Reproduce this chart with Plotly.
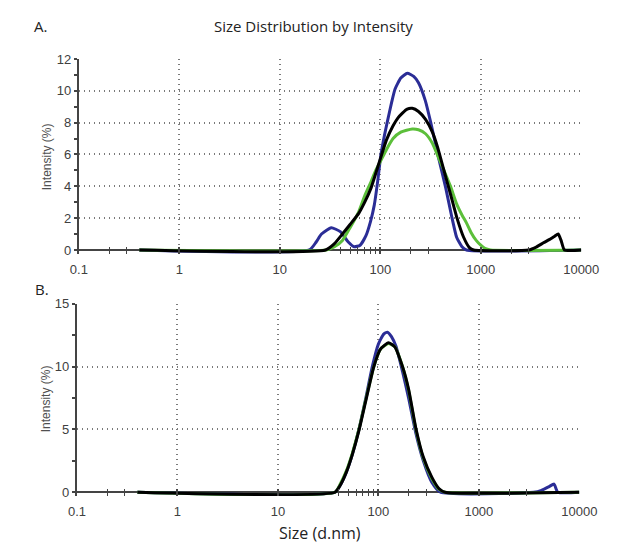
import plotly.graph_objects as go

# ---------------- data ----------------
# Panel A
a_blue_x = [0.4, 19.7, 23, 26, 32.5, 40, 48, 55, 63, 72, 80, 87, 95, 101, 110, 117, 130, 140, 160, 186, 215, 240, 280, 318, 380, 448, 510, 575, 650, 720, 10000]
a_blue_y = [0, 0, 0.5, 1.0, 1.4, 1.15, 0.5, 0.2, 0.3, 0.9, 1.8, 2.8, 4.5, 5.9, 7.2, 8.0, 9.3, 10.1, 10.8, 11.1, 10.9, 10.5, 9.4, 8.0, 5.8, 3.9, 2.2, 0.8, 0.2, 0, 0]

a_green_x = [0.4, 29, 35, 42, 50, 61, 70, 81, 90, 101, 115, 134, 160, 208, 240, 282, 330, 374, 430, 500, 575, 650, 720, 800, 900, 1000, 1100, 1250, 10000]
a_green_y = [0, 0, 0.2, 0.6, 1.4, 2.4, 3.4, 4.3, 5.0, 5.6, 6.3, 7.0, 7.4, 7.6, 7.55, 7.3, 6.7, 5.9, 5.0, 4.0, 2.9, 2.2, 1.7, 1.1, 0.6, 0.3, 0.1, 0, 0]

a_black_x = [0.4, 28.5, 35, 42, 50, 61, 70, 81, 90, 101, 115, 134, 150, 166, 185, 208, 240, 282, 330, 374, 430, 500, 580, 675, 770, 850, 3000, 3600, 4200, 4800, 5400, 5900, 6300, 6800, 10000]
a_black_y = [0, 0, 0.4, 1.0, 1.6, 2.3, 3.0, 3.9, 4.8, 5.8, 6.9, 7.8, 8.3, 8.6, 8.85, 8.9, 8.7, 8.2, 7.4, 6.4, 5.0, 3.5, 2.0, 0.8, 0.15, 0, 0, 0.2, 0.45, 0.65, 0.85, 1.0, 0.6, 0, 0]

# Panel B
b_blue_x = [0.4, 37, 42, 48, 55, 64, 75, 87, 100, 113, 123, 135, 150, 174, 200, 236, 280, 340, 415, 3500, 4200, 5000, 5600, 6100, 10000]
b_blue_y = [0, 0, 0.6, 1.6, 3.0, 5.0, 7.5, 10.0, 11.8, 12.6, 12.75, 12.4, 11.6, 9.6, 7.5, 4.7, 2.5, 0.8, 0, 0, 0.15, 0.45, 0.65, 0, 0]

b_green_x = [0.4, 37, 42, 48, 55, 64, 75, 90, 105, 126, 145, 174, 200, 236, 280, 340, 400, 460, 10000]
b_green_y = [0, 0, 0.7, 1.7, 3.1, 5.0, 7.4, 10.0, 11.4, 11.85, 11.6, 10.0, 8.1, 5.0, 2.7, 1.1, 0.25, 0, 0]

b_black_x = [0.4, 37, 42, 48, 55, 64, 75, 90, 105, 126, 145, 174, 200, 236, 280, 340, 400, 460, 10000]
b_black_y = [0, 0, 0.6, 1.6, 3.0, 4.9, 7.3, 10.0, 11.4, 11.9, 11.6, 10.0, 8.2, 5.1, 2.8, 1.2, 0.3, 0, 0]

x_tickvals = [0.1, 1, 10, 100, 1000, 10000]
x_ticktext = ["0.1", "1", "10", "100", "1000", "10000"]
x_minorvals = [0.2, 0.3, 40, 50, 60, 70, 80, 90, 200, 300, 2000, 3000]
a_yticks = [0, 2, 4, 6, 8, 10, 12]
b_yticks = [0, 5, 10, 15]

# ---------------- style ----------------
BLUE = "#2b2d96"
GREEN = "#5cbf3a"
BLACK = "#000000"
AXIS = "#444444"
GRID = "#7a7a7a"
TICKFONT = dict(family="Liberation Sans Narrow, Liberation Sans, Arial", size=13, color="#404040")

W, H = 627, 549


def px_x(p):
    return p / W


def px_y(p):
    return 1 - p / H


fig = go.Figure()


def add(x, y, color, xa, ya):
    fig.add_trace(go.Scatter(x=x, y=y, mode="lines", xaxis=xa, yaxis=ya,
                             line=dict(color=color, width=3, shape="spline", smoothing=0.5),
                             showlegend=False, hoverinfo="skip"))


add(a_blue_x, a_blue_y, BLUE, "x", "y")
add(a_green_x, a_green_y, GREEN, "x", "y")
add(a_black_x, a_black_y, BLACK, "x", "y")
add(b_blue_x, b_blue_y, BLUE, "x2", "y2")
add(b_green_x, b_green_y, GREEN, "x2", "y2")
add(b_black_x, b_black_y, BLACK, "x2", "y2")


def xaxis(anchor, dom):
    return dict(type="log", range=[-1, 4], domain=dom, anchor=anchor,
                tickvals=x_tickvals, ticktext=x_ticktext, tickfont=TICKFONT,
                showline=False,
                ticks="inside", ticklen=7, tickwidth=1.5, tickcolor=AXIS,
                ticklabelstandoff=6,
                showgrid=True, gridcolor=GRID, griddash="1px,4px", gridwidth=1.5,
                minor=dict(ticks="inside", ticklen=7, tickwidth=1, tickcolor=AXIS,
                           tickvals=x_minorvals, showgrid=False),
                zeroline=False, fixedrange=True)


def yaxis(anchor, dom, rng, vals, minor_dtick):
    return dict(range=rng, domain=dom, anchor=anchor,
                tickvals=vals, tickfont=TICKFONT,
                showline=True, linecolor=AXIS, linewidth=2,
                ticks="outside", ticklen=3, tickwidth=2, tickcolor=AXIS,
                showgrid=True, gridcolor=GRID, griddash="1px,4px", gridwidth=1.5,
                minor=dict(ticks="outside", ticklen=3, tickwidth=2, tickcolor=AXIS,
                           dtick=minor_dtick, showgrid=False),
                zeroline=True, zerolinecolor=AXIS, zerolinewidth=2,
                fixedrange=True)


# reference pixel geometry: A: 0 at y=248, 12 at 53 (16.25 px/unit); B: 0 at 495, 15 at 303
fig.update_layout(
    width=W, height=H,
    margin=dict(l=0, r=0, t=0, b=0),
    paper_bgcolor="white", plot_bgcolor="white",
    xaxis=xaxis("y", [px_x(73), px_x(598)]),
    yaxis=yaxis("x", [px_y(252), px_y(53)], [-0.25, 12], a_yticks, 1),
    xaxis2=xaxis("y2", [px_x(71), px_x(596)]),
    yaxis2=yaxis("x2", [px_y(499), px_y(303)], [-0.3, 15], b_yticks, 2.5),
)


def ann(text, x, y, size, angle=0, family="Open Sans", color="#222222", xanchor="center"):
    fig.add_annotation(text=text, x=px_x(x), y=px_y(y), xref="paper", yref="paper",
                       showarrow=False, textangle=angle, xanchor=xanchor, yanchor="middle",
                       font=dict(family=family, size=size, color=color))


ann("A.", 24, 19, 15, xanchor="left")
ann("Size Distribution by Intensity", 318, 19, 15)
ann("B.", 25, 288, 15, xanchor="left")
ann("Size (d.nm)", 325, 537, 16)
ann("Intensity (%)", 40, 153, 12, angle=-90, family="Liberation Sans, Arial", color="#505050")
ann("Intensity (%)", 39, 400, 12, angle=-90, family="Liberation Sans, Arial", color="#505050")

fig.write_html("out.html")
